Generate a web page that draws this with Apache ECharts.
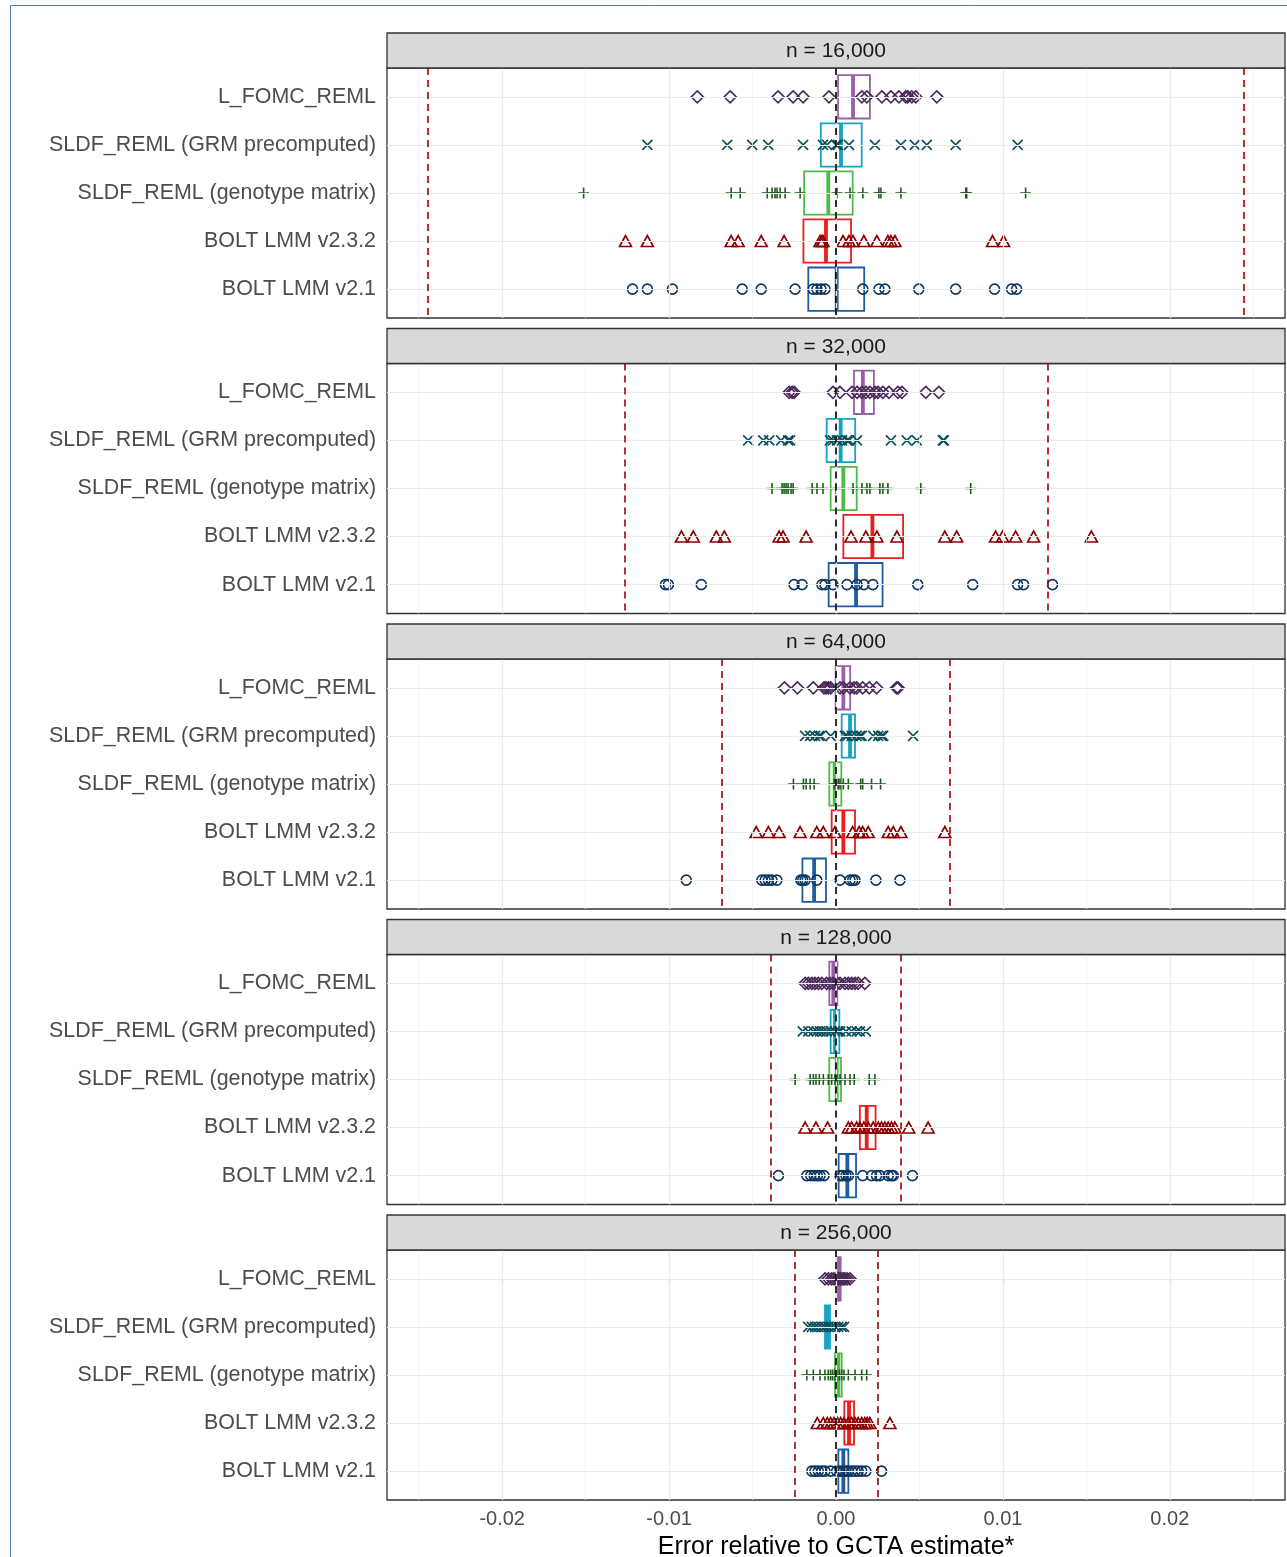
<!DOCTYPE html>
<html><head><meta charset="utf-8">
<script src="https://cdn.jsdelivr.net/npm/echarts@6/dist/echarts.min.js"></script>
<style>html,body{margin:0;padding:0;background:#fff}#c{width:1287px;height:1557px}</style>
</head><body><div id="c"></div>
<script>
// ---------- DATA ----------
const methods = ['L_FOMC_REML', 'SLDF_REML (GRM precomputed)', 'SLDF_REML (genotype matrix)', 'BOLT LMM v2.3.2', 'BOLT LMM v2.1'];
const panelTitles = ['n = 16,000', 'n = 32,000', 'n = 64,000', 'n = 128,000', 'n = 256,000'];
const xTickValues = [-0.02, -0.01, 0, 0.01, 0.02];
const xMinorValues = [-0.025, -0.015, -0.005, 0.005, 0.015, 0.025];
const thresholds = [0.02445, 0.01267, 0.00684, 0.0039, 0.00248];
const xLimit = 0.0269;

// points per panel: [L_FOMC, GRM, genotype, v2.3.2, v2.1]
const pts16k = [
  [-0.00831, -0.00634, -0.00347, -0.00257, -0.00197, -0.00042, 0.00155, 0.00185, 0.00275, 0.00329, 0.00377, 0.00418, 0.00430, 0.00454, 0.00478, 0.00604],
  [-0.01130, -0.00652, -0.00502, -0.00406, -0.00197, -0.00078, -0.00054, 0.00000, 0.00012, 0.00078, 0.00233, 0.00389, 0.00472, 0.00544, 0.00717, 0.01088],
  [-0.01512, -0.00628, -0.00574, -0.00412, -0.00383, -0.00365, -0.00353, -0.00335, -0.00305, -0.00215, 0.00006, 0.00084, 0.00161, 0.00257, 0.00269, 0.00389, 0.00777, 0.00783, 0.01136],
  [-0.01261, -0.01130, -0.00628, -0.00586, -0.00448, -0.00311, -0.00096, -0.00084, -0.00078, 0.00042, 0.00078, 0.00102, 0.00167, 0.00245, 0.00311, 0.00329, 0.00353, 0.00938, 0.01004],
  [-0.01219, -0.01130, -0.00980, -0.00562, -0.00448, -0.00245, -0.00137, -0.00114, -0.00090, -0.00066, 0.00161, 0.00257, 0.00293, 0.00496, 0.00717, 0.00950, 0.01052, 0.01082]
];
const pts32k = [
  [-0.00281, -0.00263, -0.00251, -0.00018, 0.00024, 0.00096, 0.00126, 0.00155, 0.00179, 0.00203, 0.00233, 0.00251, 0.00281, 0.00317, 0.00371, 0.00395, 0.00538, 0.00616],
  [-0.00526, -0.00436, -0.00400, -0.00329, -0.00287, -0.00275, -0.00036, -0.00018, 0.00006, 0.00036, 0.00066, 0.00078, 0.00126, 0.00329, 0.00424, 0.00484, 0.00640, 0.00646],
  [-0.00383, -0.00323, -0.00311, -0.00299, -0.00287, -0.00269, -0.00257, -0.00143, -0.00114, -0.00078, 0.00000, 0.00102, 0.00155, 0.00185, 0.00203, 0.00263, 0.00281, 0.00311, 0.00508, 0.00807],
  [-0.00926, -0.00855, -0.00717, -0.00669, -0.00341, -0.00317, -0.00179, 0.00090, 0.00179, 0.00245, 0.00365, 0.00652, 0.00723, 0.00956, 0.00998, 0.01076, 0.01184, 0.01530],
  [-0.01022, -0.01004, -0.00807, -0.00251, -0.00203, -0.00084, -0.00066, -0.00018, 0.00066, 0.00126, 0.00167, 0.00221, 0.00490, 0.00819, 0.01088, 0.01124, 0.01297]
];
const pts64k = [
  [-0.00309, -0.00231, -0.00136, -0.00072, -0.00060, -0.00046, -0.00032, 0.00024, 0.00044, 0.00084, 0.00108, 0.00124, 0.00160, 0.00199, 0.00243, 0.00363, 0.00372],
  [-0.00185, -0.00155, -0.00126, -0.00102, -0.00091, -0.00032, 0.00054, 0.00068, 0.00094, 0.00124, 0.00143, 0.00154, 0.00223, 0.00253, 0.00273, 0.00283, 0.00462],
  [-0.00255, -0.00195, -0.00179, -0.00155, -0.00131, -0.00010, 0.00004, 0.00014, 0.00024, 0.00044, 0.00074, 0.00148, 0.00160, 0.00213, 0.00267],
  [-0.00478, -0.00405, -0.00341, -0.00215, -0.00115, -0.00076, -0.00006, 0.00100, 0.00139, 0.00160, 0.00193, 0.00313, 0.00343, 0.00389, 0.00652],
  [-0.00897, -0.00444, -0.00424, -0.00405, -0.00384, -0.00354, -0.00211, -0.00199, -0.00185, -0.00115, 0.00024, 0.00084, 0.00100, 0.00114, 0.00239, 0.00383]
];
const pts128k = [
  [-0.00185, -0.00166, -0.00145, -0.00126, -0.00106, -0.00085, -0.00056, -0.00036, -0.00016, 0.00008, 0.00024, 0.00054, 0.00074, 0.00094, 0.00114, 0.00133, 0.00173],
  [-0.00199, -0.00166, -0.00136, -0.00115, -0.00096, -0.00076, -0.00056, -0.00032, -0.00006, 0.00014, 0.00024, 0.00060, 0.00094, 0.00124, 0.00143, 0.00179],
  [-0.00245, -0.00155, -0.00136, -0.00120, -0.00100, -0.00076, -0.00046, -0.00026, -0.00006, 0.00008, 0.00024, 0.00054, 0.00084, 0.00109, 0.00199, 0.00233],
  [-0.00185, -0.00120, -0.00050, 0.00074, 0.00094, 0.00124, 0.00143, 0.00167, 0.00193, 0.00223, 0.00253, 0.00273, 0.00293, 0.00313, 0.00333, 0.00353, 0.00436, 0.00552],
  [-0.00345, -0.00175, -0.00151, -0.00131, -0.00112, -0.00096, -0.00072, 0.00024, 0.00040, 0.00060, 0.00074, 0.00160, 0.00213, 0.00243, 0.00263, 0.00313, 0.00333, 0.00343, 0.00458]
];
const pts256k = [
  [-0.00066, -0.00046, -0.00026, -0.00012, 0.00004, 0.00014, 0.00024, 0.00034, 0.00044, 0.00054, 0.00068, 0.00084],
  [-0.00166, -0.00145, -0.00126, -0.00106, -0.00085, -0.00066, -0.00046, -0.00026, -0.00006, 0.00014, 0.00034, 0.00048],
  [-0.00175, -0.00136, -0.00096, -0.00066, -0.00046, -0.00032, -0.00020, -0.00006, 0.00004, 0.00020, 0.00034, 0.00048, 0.00074, 0.00114, 0.00154, 0.00184],
  [-0.00112, -0.00076, -0.00052, -0.00032, -0.00012, 0.00008, 0.00028, 0.00048, 0.00074, 0.00094, 0.00114, 0.00133, 0.00154, 0.00173, 0.00187, 0.00203, 0.00323],
  [-0.00145, -0.00126, -0.00106, -0.00085, -0.00066, -0.00032, 0.00004, 0.00024, 0.00044, 0.00060, 0.00074, 0.00094, 0.00114, 0.00133, 0.00154, 0.00179, 0.00273]
];

// box stats per panel: [q1, median, q3] for each method
const box16k = [[0.00012, 0.00102, 0.00203], [-0.00091, 0.00030, 0.00154], [-0.00191, -0.00046, 0.00100], [-0.00195, -0.00060, 0.00090], [-0.00166, 0.00004, 0.00169]];
const box32k = [[0.00108, 0.00161, 0.00227], [-0.00056, 0.00028, 0.00115], [-0.00032, 0.00044, 0.00124], [0.00044, 0.00218, 0.00402], [-0.00044, 0.00120, 0.00279]];
const box64k = [[-0.00002, 0.00044, 0.00085], [0.00034, 0.00084, 0.00114], [-0.00040, -0.00008, 0.00032], [-0.00026, 0.00044, 0.00114], [-0.00201, -0.00131, -0.00060]];
const box128k = [[-0.00040, -0.00016, 0.00008], [-0.00032, -0.00006, 0.00020], [-0.00040, 0.00004, 0.00030], [0.00143, 0.00184, 0.00237], [0.00016, 0.00068, 0.00120]];
const box256k = [[0.00004, 0.00016, 0.00028], [-0.00066, -0.00052, -0.00036], [-0.00006, 0.00014, 0.00034], [0.00050, 0.00078, 0.00108], [0.00014, 0.00044, 0.00074]];

const allPts = [pts16k, pts32k, pts64k, pts128k, pts256k];
const allBoxes = [box16k, box32k, box64k, box128k, box256k];

// ---------- STYLE / LAYOUT ----------
const FONT = '"Liberation Sans", Arial, Helvetica, sans-serif';
const stripTops = [33, 328.5, 624, 919.5, 1215];
const STRIP_H = 35, PANEL_H = 250, P_LEFT = 387, P_RIGHT = 2, P_WIDTH = 898;
const boxColors = ['#9b5ea8', '#17a2c2', '#4cbb47', '#ee1c1c', '#1f5b9f'];
const ptColors = ['#4b2a5a', '#0b4e5c', '#1e5c1e', '#8b0000', '#0c365f'];
const symbols = ['diamond', 'path://M0,0L10,10M10,0L0,10', 'path://M5,0L5,10M0,5L10,5', 'triangle', 'circle'];
const symSizes = [[12, 12], [10, 10], [11, 11], [12, 11], [10, 10]];
const rowIdx = methods.map((m, k) => k);

const chart = echarts.init(document.getElementById('c'), null, {renderer: 'canvas'});

const grids = [], xAxes = [], yAxes = [], series = [], graphics = [];

graphics.push({type: 'rect', silent: true, z: 100, shape: {x: 10.5, y: 5.5, width: 1400, height: 1700}, style: {fill: 'none', stroke: '#5b7aa3', lineWidth: 1}});

for (let i = 0; i < 5; i++) {
  const top = stripTops[i] + STRIP_H;
  grids.push({left: P_LEFT, right: P_RIGHT, top: top, height: PANEL_H, outerBoundsMode: 'none', containLabel: false,
    show: true, backgroundColor: '#fff', borderColor: '#333', borderWidth: 1.3, z: 0});
  const isBottom = i === 4;
  xAxes.push({
    gridIndex: i, type: 'value', min: -xLimit, max: xLimit,
    axisLine: {show: false}, splitLine: {show: false},
    axisTick: {show: isBottom, customValues: xTickValues, length: 5, lineStyle: {color: '#333', width: 1.1}},
    axisLabel: {show: isBottom, customValues: xTickValues, formatter: v => v.toFixed(2), fontSize: 20, color: '#4d4d4d', margin: 9, fontFamily: FONT},
    name: isBottom ? 'Error relative to GCTA estimate*' : '',
    nameLocation: 'middle', nameGap: 35,
    nameTextStyle: {fontSize: 25, color: '#000', fontFamily: FONT}
  });
  yAxes.push({
    gridIndex: i, type: 'value', inverse: true, min: -0.6, max: 4.6,
    axisLine: {show: false}, splitLine: {show: false},
    axisTick: {show: true, customValues: rowIdx, length: 5, lineStyle: {color: '#333', width: 1.1}},
    axisLabel: {customValues: rowIdx, formatter: v => methods[Math.round(v)], fontSize: 21.4, color: '#4d4d4d', margin: 11, fontFamily: FONT}
  });

  // grid lines
  const gl = [];
  xTickValues.forEach(v => gl.push({xAxis: v, lineStyle: {color: '#ebebeb', width: 1.2, type: 'solid'}}));
  xMinorValues.forEach(v => gl.push({xAxis: v, lineStyle: {color: '#efefef', width: 0.7, type: 'solid'}}));
  rowIdx.forEach(k => gl.push({yAxis: k, lineStyle: {color: '#ebebeb', width: 1.2, type: 'solid'}}));
  series.push({type: 'scatter', xAxisIndex: i, yAxisIndex: i, data: [], silent: true, z: 1,
    markLine: {silent: true, precision: 8, symbol: ['none', 'none'], label: {show: false}, animation: false, data: gl}});

  // boxes
  series.push({
    type: 'custom', xAxisIndex: i, yAxisIndex: i, z: 2, silent: true,
    data: allBoxes[i].map((b, k) => [k, b[0], b[1], b[2]]),
    encode: {x: [1, 2, 3], y: 0},
    renderItem: function (params, api) {
      const k = api.value(0);
      const p1 = api.coord([api.value(1), k]);
      const pm = api.coord([api.value(2), k]);
      const p3 = api.coord([api.value(3), k]);
      const h = Math.abs(api.size([0, 0.9])[1]);
      const c = boxColors[k];
      return {type: 'group', children: [
        {type: 'rect', shape: {x: p1[0], y: p1[1] - h / 2, width: p3[0] - p1[0], height: h}, style: {fill: 'none', stroke: c, lineWidth: 1.8}},
        {type: 'line', shape: {x1: pm[0], y1: pm[1] - h / 2, x2: pm[0], y2: pm[1] + h / 2}, style: {stroke: c, lineWidth: 3.8}}
      ]};
    }
  });

  // reference lines
  series.push({type: 'scatter', xAxisIndex: i, yAxisIndex: i, data: [], silent: true, z: 3,
    markLine: {silent: true, precision: 8, symbol: ['none', 'none'], label: {show: false}, animation: false, data: [
      {xAxis: 0, lineStyle: {color: '#000', width: 1.6, type: [7, 5]}},
      {xAxis: -thresholds[i], lineStyle: {color: '#a00000', width: 1.6, type: [7, 5]}},
      {xAxis: thresholds[i], lineStyle: {color: '#a00000', width: 1.6, type: [7, 5]}}
    ]}});

  // points
  for (let k = 0; k < 5; k++) {
    series.push({
      type: 'scatter', xAxisIndex: i, yAxisIndex: i, z: 4, silent: true,
      symbol: symbols[k], symbolSize: symSizes[k],
      itemStyle: {color: 'rgba(0,0,0,0)', borderColor: ptColors[k], borderWidth: 1.6, opacity: 1},
      data: allPts[i][k].map(v => [v, k])
    });
  }

  graphics.push({type: 'rect', silent: true, z: 50, shape: {x: P_LEFT, y: stripTops[i], width: P_WIDTH, height: STRIP_H}, style: {fill: '#d9d9d9', stroke: '#333', lineWidth: 1.3}});
  graphics.push({type: 'text', silent: true, z: 51, x: P_LEFT + P_WIDTH / 2, y: stripTops[i] + STRIP_H / 2 + 1,
    style: {text: panelTitles[i], fill: '#1a1a1a', font: '21px ' + FONT, align: 'center', verticalAlign: 'middle'}});
}

chart.setOption({
  animation: false,
  backgroundColor: '#fff',
  textStyle: {fontFamily: FONT},
  grid: grids, xAxis: xAxes, yAxis: yAxes, series: series, graphic: graphics
});
</script></body></html>
